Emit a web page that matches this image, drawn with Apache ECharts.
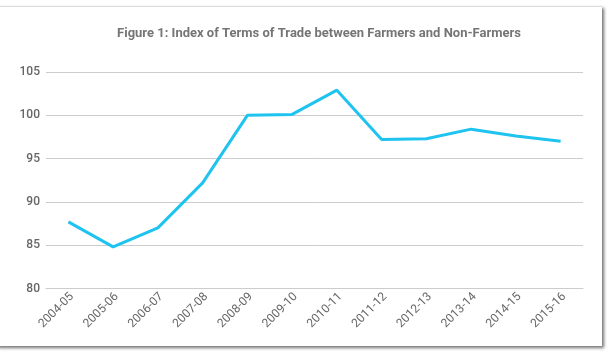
<!DOCTYPE html>
<html>
<head>
<meta charset="utf-8">
<script src="https://cdn.jsdelivr.net/npm/echarts@6/dist/echarts.min.js"></script>
<style>
  html, body { margin: 0; padding: 0; background: #fff; }
  #frame {
    position: absolute; left: -4px; top: 6px; width: 606px; height: 339px;
    border-top: 1px solid #ddd;
    box-shadow: 2px 2px 3px rgba(0,0,0,0.55);
    background: #fff;
  }
  #main { position: absolute; left: 0; top: 0; width: 610px; height: 352px; }
</style>
</head>
<body>
<div id="frame"></div>
<div id="main"></div>
<script>
const years = ['2004-05', '2005-06', '2006-07', '2007-08', '2008-09', '2009-10',
  '2010-11', '2011-12', '2012-13', '2013-14', '2014-15', '2015-16']
const indexValues = [87.7, 84.8, 87.0, 92.2, 100.0, 100.1, 102.9, 97.2, 97.3, 98.4, 97.6, 97.0]

const chart = echarts.init(document.getElementById('main'), null, { renderer: 'canvas' })

chart.setOption({
  backgroundColor: 'transparent',
  animation: false,
  title: {
    text: 'Figure 1: Index of Terms of Trade between Farmers and Non-Farmers',
    left: 314,
    top: 22,
    textAlign: 'center',
    textStyle: {
      fontFamily: 'Roboto',
      fontSize: 13,
      fontWeight: 'bold',
      color: '#757575'
    }
  },
  grid: {
    left: 46,
    right: 27,
    top: 72,
    bottom: 63.5
  },
  xAxis: {
    type: 'category',
    data: years,
    boundaryGap: true,
    axisLine: { show: true, lineStyle: { color: '#cccccc' } },
    axisTick: { show: false },
    axisLabel: {
      rotate: 45,
      interval: 0,
      margin: 10,
      padding: [0, -5, 0, 0],
      fontFamily: 'Roboto',
      fontSize: 12,
      color: '#666666'
    }
  },
  yAxis: {
    type: 'value',
    min: 80,
    max: 105,
    interval: 5,
    axisLine: { show: false },
    axisTick: { show: false },
    splitLine: { lineStyle: { color: '#cccccc' } },
    axisLabel: {
      margin: 6,
      fontFamily: 'Roboto',
      fontSize: 12,
      fontWeight: 500,
      color: '#666666'
    }
  },
  series: [{
    type: 'line',
    data: indexValues,
    symbol: 'none',
    lineStyle: { color: '#1ec3f0', width: 3 }
  }]
})
</script>
</body>
</html>
